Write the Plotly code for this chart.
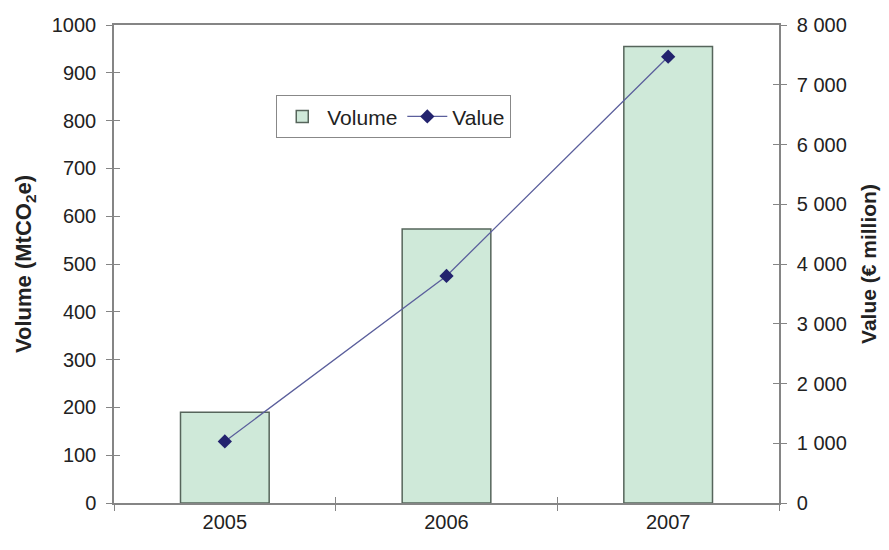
import plotly.graph_objects as go

# Carbon market: traded volume (bars, left axis) and value (line, right axis)
years = ["2005", "2006", "2007"]
volume_mtco2e = [190, 573, 955]
value_eur_million = [1030, 3800, 7470]

FONT = "Liberation Sans, Arial, Helvetica, sans-serif"
TEXT = "#222222"
AXIS = "#858585"

fig = go.Figure()

fig.add_trace(go.Bar(
    x=years, y=volume_mtco2e, name="Volume",
    marker=dict(color="#cfe9d9", line=dict(color="#56655b", width=1.5)),
    width=0.4, xaxis="x", yaxis="y",
))

fig.add_trace(go.Scatter(
    x=years, y=value_eur_million, name="Value", mode="lines+markers",
    line=dict(color="#5b5f9c", width=1.3),
    marker=dict(symbol="diamond", size=11, color="#23236e"),
    xaxis="x", yaxis="y2",
))

tick_font = dict(family=FONT, size=20, color=TEXT)
left_title_font = dict(family=FONT, size=22, color=TEXT, weight="bold")
right_title_font = dict(family=FONT, size=21, color=TEXT, weight="bold")

fig.update_layout(
    width=889, height=550,
    margin=dict(l=114, r=110, t=25, b=47),
    paper_bgcolor="white", plot_bgcolor="white",
    separators=". ",
    showlegend=True,
    legend=dict(
        orientation="h", x=0.244, y=0.808, xanchor="left", yanchor="middle",
        bgcolor="white", bordercolor="#888888", borderwidth=1,
        font=dict(family=FONT, size=21, color=TEXT),
        itemwidth=40, tracegroupgap=0,
    ),
    xaxis=dict(
        type="category", range=[-0.5, 2.5],
        showline=True, linecolor=AXIS, linewidth=1.5, mirror=True,
        ticks="outside", tickson="boundaries", ticklen=6, tickcolor=AXIS,
        showgrid=False, tickfont=tick_font, automargin=False,
    ),
    xaxis2=dict(
        type="category", range=[-0.5, 2.5], overlaying="x",
        ticks="inside", tickson="boundaries", ticklen=6, tickcolor=AXIS,
        showticklabels=False, showgrid=False, showline=False,
        tickvals=years,
    ),
    yaxis=dict(
        range=[0, 1000], dtick=100,
        showline=True, linecolor=AXIS, linewidth=1.5,
        ticks="outside", ticklen=6, tickcolor=AXIS, ticklabelstandoff=6,
        showgrid=False, zeroline=False, tickfont=tick_font,
        title=dict(text="Volume (MtCO<sub>2</sub>e)", font=left_title_font, standoff=14),
        automargin=False,
    ),
    yaxis2=dict(
        range=[0, 8000], dtick=1000, side="right", overlaying="y",
        showline=True, linecolor=AXIS, linewidth=1.5,
        ticks="outside", ticklen=6, tickcolor=AXIS, ticklabelstandoff=6,
        separatethousands=True,
        showgrid=False, zeroline=False, tickfont=tick_font,
        title=dict(text="Value (€ million)", font=right_title_font, standoff=15),
        automargin=False,
    ),
    yaxis3=dict(
        range=[0, 1000], dtick=100, overlaying="y", side="left",
        ticks="inside", ticklen=6, tickcolor=AXIS,
        showticklabels=False, showgrid=False, zeroline=False, showline=False,
    ),
    yaxis4=dict(
        range=[0, 8000], dtick=1000, overlaying="y", side="right",
        ticks="inside", ticklen=6, tickcolor=AXIS,
        showticklabels=False, showgrid=False, zeroline=False, showline=False,
    ),
)

# Invisible helper traces so the inside-tick overlay axes are rendered
fig.add_trace(go.Scatter(x=years, y=[None] * 3, xaxis="x2", yaxis="y3",
                         showlegend=False, hoverinfo="skip"))
fig.add_trace(go.Scatter(x=years, y=[None] * 3, xaxis="x2", yaxis="y4",
                         showlegend=False, hoverinfo="skip"))

fig.write_html("out.html")
